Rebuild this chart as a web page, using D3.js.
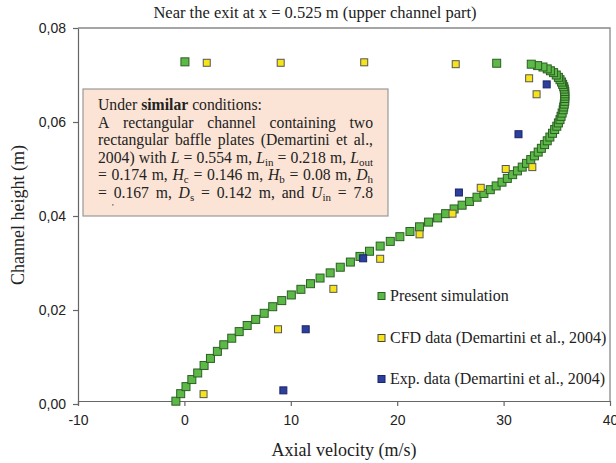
<!DOCTYPE html>
<html>
<head>
<meta charset="utf-8">
<script src="https://cdn.jsdelivr.net/npm/d3@7"></script>
<style>
  body { margin: 0; background: #fff; }
  text { font-family: "Liberation Serif", "Times New Roman", serif; fill: #222; }
  .tick text { font-family: "Liberation Sans", Arial, sans-serif; font-size: 14px; fill: #222; }
</style>
</head>
<body>
<svg id="chart" width="616" height="463"></svg>
<script>
// Present simulation (green)
const simVelocity = [-0.8, -0.35, 0.15, 0.7, 1.25, 1.85, 2.45, 3.1, 3.7, 4.45,
  5.15, 5.9, 6.7, 7.5, 8.3, 9.15, 10.05, 10.95, 11.85, 12.75,
  13.7, 14.65, 15.6, 16.5, 17.4, 18.4, 19.35, 20.25, 21.2, 22.1,
  22.95, 23.8, 24.55, 25.35, 26.1, 26.8, 27.5, 28.15, 28.75, 29.3,
  29.85, 30.35, 30.85, 31.3, 31.75, 32.15, 32.55, 32.9, 33.25, 33.55,
  33.85, 34.1, 34.35, 34.6, 34.8, 35.0, 35.15, 35.3, 35.4, 35.5,
  35.6, 35.65, 35.7, 35.75, 35.75, 35.75, 35.75, 35.75, 35.7, 35.65,
  35.55, 35.45, 35.3, 35.15, 34.95, 34.7, 34.4, 34.1, 33.7, 33.2,
  32.6, 29.35, 0.05];
const simHeight = [0.0006, 0.0022, 0.0037, 0.0052, 0.0066, 0.0082, 0.0097, 0.0112, 0.0126, 0.0140,
  0.0154, 0.0167, 0.0180, 0.0193, 0.0207, 0.0220, 0.0232, 0.0244, 0.0256, 0.0268,
  0.0279, 0.0291, 0.0302, 0.0314, 0.0325, 0.0336, 0.0346, 0.0356, 0.0367, 0.0377,
  0.0387, 0.0396, 0.0405, 0.0415, 0.0423, 0.0431, 0.0440, 0.0448, 0.0456, 0.0464,
  0.0472, 0.0480, 0.0488, 0.0496, 0.0504, 0.0512, 0.0520, 0.0528, 0.0536, 0.0544,
  0.0552, 0.0560, 0.0568, 0.0576, 0.0584, 0.0591, 0.0598, 0.0605, 0.0612, 0.0619,
  0.0626, 0.0632, 0.0638, 0.0644, 0.0650, 0.0655, 0.0660, 0.0665, 0.0670, 0.0675,
  0.0680, 0.0685, 0.0690, 0.0695, 0.0700, 0.0705, 0.0709, 0.0713, 0.0717, 0.0720,
  0.0723, 0.0725, 0.0728];

// CFD data (yellow)
const cfdVelocity = [2.1, 9.05, 16.9, 25.5, 32.4, 33.1, 32.7, 30.2, 27.85, 25.2, 22.1, 18.4, 14.0, 8.8, 1.8];
const cfdHeight = [0.0726, 0.0726, 0.0727, 0.0723, 0.0693, 0.0659, 0.0504, 0.0500, 0.0460, 0.0405, 0.0361, 0.0309, 0.0245, 0.0159, 0.0021];

// Exp. data (blue)
const expVelocity = [34.05, 31.4, 25.8, 16.8, 11.4, 9.3];
const expHeight = [0.0680, 0.0574, 0.0450, 0.0310, 0.0159, 0.0029];

const xTicks = [-10, 0, 10, 20, 30, 40];
const yTicks = [0, 0.02, 0.04, 0.06, 0.08];

const legendLabels = ["Present simulation", "CFD data (Demartini et al., 2004)", "Exp. data (Demartini et al., 2004)"];

const boxLines = [
  "Under {b:similar} conditions:",
  "A rectangular channel containing two",
  "rectangular baffle plates (Demartini et al.,",
  "2004) with {i:L} = 0.554 m, {i:L}{s:in} = 0.218 m, {i:L}{s:out}",
  "= 0.174 m, {i:H}{s:c} = 0.146 m, {i:H}{s:b} = 0.08 m, {i:D}{s:h}",
  "= 0.167 m, {i:D}{s:s} = 0.142 m, and {i:U}{s:in} = 7.8"
];

const svg = d3.select("#chart");

const x = d3.scaleLinear().domain([-10, 40]).range([78, 610]);
const y = d3.scaleLinear().domain([0, 0.08]).range([404, 28]);

// frame (top + right)
svg.append("path")
  .attr("d", `M${x(-10)},${y(0.08)}H${x(40)}V${y(0) - 3}`)
  .attr("fill", "none")
  .attr("stroke", "#888")
  .attr("stroke-width", 1.3);

// axes
svg.append("g")
  .attr("transform", `translate(0,${y(0) - 3})`)
  .call(d3.axisBottom(x).tickValues(xTicks).tickSize(5).tickSizeOuter(0).tickPadding(9)
    .tickFormat(d => String(d)));

svg.append("g")
  .attr("transform", `translate(${x(-10)},0)`)
  .call(d3.axisLeft(y).tickValues(yTicks).tickSize(5).tickSizeOuter(0).tickPadding(7)
    .tickFormat(d => d3.format(".2f")(d).replace(".", ",")));

svg.selectAll(".domain, .tick line").attr("stroke", "#666").attr("stroke-width", 1.2);

// titles
svg.append("text")
  .attr("x", 315).attr("y", 18)
  .attr("text-anchor", "middle")
  .style("font-size", "16.5px")
  .text("Near the exit at x = 0.525 m (upper channel part)");

svg.append("text")
  .attr("x", 344).attr("y", 456)
  .attr("text-anchor", "middle")
  .style("font-size", "18px")
  .text("Axial velocity (m/s)");

svg.append("text")
  .attr("transform", "translate(24,215) rotate(-90)")
  .attr("text-anchor", "middle")
  .style("font-size", "18px")
  .text("Channel height (m)");

// text box
const box = svg.append("g");
box.append("rect")
  .attr("x", 83).attr("y", 89)
  .attr("width", 305).attr("height", 127)
  .attr("fill", "#fbe4d5")
  .attr("stroke", "#999")
  .attr("stroke-width", 1.2);

function addRich(g, str, px, py) {
  const t = g.append("text").attr("x", px).attr("y", py).style("font-size", "15.7px");
  const re = /\{(\w):([^}]*)\}|([^{]+)/g;
  let m, shifted = false;
  while ((m = re.exec(str)) !== null) {
    const span = t.append("tspan");
    if (m[3] !== undefined) {
      span.text(m[3]);
      if (shifted) { span.attr("dy", -3); shifted = false; }
    } else {
      span.text(m[2]);
      if (m[1] === "b") span.style("font-weight", "bold");
      if (m[1] === "i") span.style("font-style", "italic");
      if (m[1] === "s") { span.style("font-size", "11px").attr("dy", 3); shifted = true; }
      else if (shifted) { span.attr("dy", -3); shifted = false; }
    }
  }
  return t;
}

const textLeft = 98, textWidth = 275;
boxLines.forEach((line, i) => {
  const ly = 110 + i * 17.6;
  if (i === 0) {
    addRich(box, line, textLeft, ly);
    return;
  }
  const words = line.split(" ");
  const nodes = words.map(w => addRich(box, w, 0, ly));
  const widths = nodes.map(n => n.node().getComputedTextLength());
  const gap = Math.max(2, (textWidth - d3.sum(widths)) / (words.length - 1));
  let cx = textLeft;
  nodes.forEach((n, j) => {
    n.attr("x", cx);
    cx += widths[j] + gap;
  });
});
box.append("text").attr("x", 112).attr("y", 210).style("font-size", "9px").attr("fill", "#666").text("'");

// points
function drawSeries(vel, hgt, size, fill, stroke) {
  svg.append("g").selectAll("rect")
    .data(vel.map((v, i) => [v, hgt[i]]))
    .enter()
    .append("rect")
    .attr("x", d => x(d[0]) - size / 2)
    .attr("y", d => y(d[1]) - size / 2)
    .attr("width", size).attr("height", size)
    .attr("fill", fill)
    .attr("stroke", stroke)
    .attr("stroke-width", 1);
}

drawSeries(simVelocity, simHeight, 8, "#5cb847", "#2c5f24");
drawSeries(cfdVelocity, cfdHeight, 7, "#f7e418", "#555");
drawSeries(expVelocity, expHeight, 7, "#2c3f9c", "#1a2468");

// legend
const legendColors = [["#5cb847", "#2c5f24"], ["#f7e418", "#444"], ["#2c3f9c", "#1a2468"]];
const legendY = [296, 338, 379];
legendLabels.forEach((lab, i) => {
  svg.append("rect")
    .attr("x", 378).attr("y", legendY[i] - 3.5)
    .attr("width", 7).attr("height", 7)
    .attr("fill", legendColors[i][0])
    .attr("stroke", legendColors[i][1]);
  svg.append("text")
    .attr("x", 390).attr("y", legendY[i] + 5)
    .style("font-size", "16px")
    .text(lab);
});
</script>
</body>
</html>
